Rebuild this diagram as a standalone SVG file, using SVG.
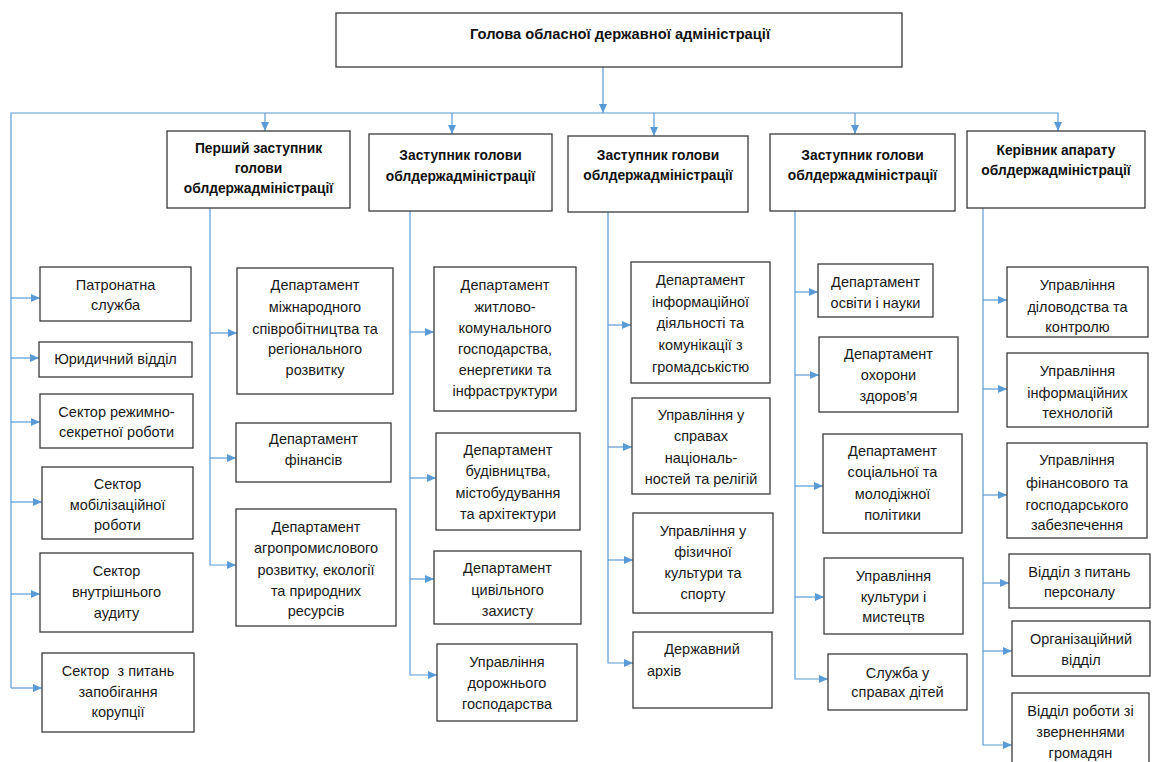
<svg xmlns="http://www.w3.org/2000/svg" width="1152" height="762" viewBox="0 0 1152 762">
<style>
.b{fill:#fff;stroke:#3a3a3a;stroke-width:1.3}
.t{font-family:"Liberation Sans",Arial,sans-serif;font-size:14.5px;fill:#1a1a1a;text-anchor:middle}
.h{font-family:"Liberation Sans",Arial,sans-serif;font-size:13.8px;font-weight:bold;fill:#111;text-anchor:middle}
.ht{font-family:"Liberation Sans",Arial,sans-serif;font-size:14.7px;font-weight:bold;fill:#111;text-anchor:middle}
.c{fill:none;stroke:#5b9bd5;stroke-width:1.2}
</style>
<defs>
<marker id="ar" markerUnits="userSpaceOnUse" markerWidth="9" markerHeight="8" refX="9" refY="4" orient="auto">
<path d="M0,0 L9,4 L0,8 z" fill="#5b9bd5"/>
</marker>
</defs>
<rect width="1152" height="762" fill="#fff"/>
<g id="connectors">
<path class="c" d="M603,67 V113" marker-end="url(#ar)"/>
<path class="c" d="M11,688 V113 H1058 V131" marker-end="url(#ar)"/>
<path class="c" d="M265,113 V131" marker-end="url(#ar)"/>
<path class="c" d="M452,113 V134" marker-end="url(#ar)"/>
<path class="c" d="M654,113 V136" marker-end="url(#ar)"/>
<path class="c" d="M855,113 V134" marker-end="url(#ar)"/>
<path class="c" d="M11,298 H40" marker-end="url(#ar)"/>
<path class="c" d="M11,358 H39" marker-end="url(#ar)"/>
<path class="c" d="M11,422 H40" marker-end="url(#ar)"/>
<path class="c" d="M11,502 H42" marker-end="url(#ar)"/>
<path class="c" d="M11,594 H40" marker-end="url(#ar)"/>
<path class="c" d="M11,688 H42" marker-end="url(#ar)"/>
<path class="c" d="M210,208 V565 H236" marker-end="url(#ar)"/>
<path class="c" d="M210,333 H237" marker-end="url(#ar)"/>
<path class="c" d="M210,458 H236" marker-end="url(#ar)"/>
<path class="c" d="M410,211 V675 H437" marker-end="url(#ar)"/>
<path class="c" d="M410,332 H434" marker-end="url(#ar)"/>
<path class="c" d="M410,478 H436" marker-end="url(#ar)"/>
<path class="c" d="M410,579 H434" marker-end="url(#ar)"/>
<path class="c" d="M608,212 V663 H633" marker-end="url(#ar)"/>
<path class="c" d="M608,325 H631" marker-end="url(#ar)"/>
<path class="c" d="M608,447 H632" marker-end="url(#ar)"/>
<path class="c" d="M608,560 H633" marker-end="url(#ar)"/>
<path class="c" d="M795,211 V679 H828" marker-end="url(#ar)"/>
<path class="c" d="M795,292 H818" marker-end="url(#ar)"/>
<path class="c" d="M795,375 H819" marker-end="url(#ar)"/>
<path class="c" d="M795,486 H823" marker-end="url(#ar)"/>
<path class="c" d="M795,597 H824" marker-end="url(#ar)"/>
<path class="c" d="M983,208 V745 H1012" marker-end="url(#ar)"/>
<path class="c" d="M983,300 H1007" marker-end="url(#ar)"/>
<path class="c" d="M983,389 H1007" marker-end="url(#ar)"/>
<path class="c" d="M983,495 H1007" marker-end="url(#ar)"/>
<path class="c" d="M983,583 H1009" marker-end="url(#ar)"/>
<path class="c" d="M983,651 H1012" marker-end="url(#ar)"/>
</g>
<g id="head"><rect class="b" x="336" y="13" width="566" height="54"/><text class="ht" x="620" y="39">Голова обласної державної адміністрації</text></g>
<g id="dep1"><rect class="b" x="167" y="131" width="183" height="77"/><text class="h" x="258.5" y="153">Перший заступник</text><text class="h" x="258.5" y="173">голови</text><text class="h" x="258.5" y="193">облдержадміністрації</text></g>
<g id="dep2"><rect class="b" x="369" y="134" width="183" height="77"/><text class="h" x="460.5" y="160">Заступник голови</text><text class="h" x="460.5" y="181">облдержадміністрації</text></g>
<g id="dep3"><rect class="b" x="568" y="136" width="180" height="76"/><text class="h" x="658" y="160">Заступник голови</text><text class="h" x="658" y="180">облдержадміністрації</text></g>
<g id="dep4"><rect class="b" x="770" y="134" width="185" height="77"/><text class="h" x="862.5" y="160">Заступник голови</text><text class="h" x="862.5" y="180">облдержадміністрації</text></g>
<g id="dep5"><rect class="b" x="967" y="131" width="178" height="77"/><text class="h" x="1056" y="155">Керівник апарату</text><text class="h" x="1056" y="175">облдержадміністрації</text></g>

<g id="n1"><rect class="b" x="40" y="267" width="151" height="54"/><text class="t" x="115.5" y="290">Патронатна</text><text class="t" x="115.5" y="310">служба</text></g>
<g id="n2"><rect class="b" x="39" y="342" width="153" height="35"/><text class="t" x="115.5" y="364">Юридичний відділ</text></g>
<g id="n3"><rect class="b" x="40" y="394" width="153" height="54"/><text class="t" x="116.5" y="417">Сектор режимно-</text><text class="t" x="116.5" y="437">секретної роботи</text></g>
<g id="n4"><rect class="b" x="42" y="467" width="151" height="72"/><text class="t" x="117.5" y="489">Сектор</text><text class="t" x="117.5" y="510">мобілізаційної</text><text class="t" x="117.5" y="530">роботи</text></g>
<g id="n5"><rect class="b" x="40" y="553" width="153" height="79"/><text class="t" x="116.5" y="576">Сектор</text><text class="t" x="116.5" y="597">внутрішнього</text><text class="t" x="116.5" y="618">аудиту</text></g>
<g id="n6"><rect class="b" x="42" y="653" width="152" height="79"/><text class="t" x="118" y="676">Сектор&#160; з питань</text><text class="t" x="118" y="697">запобігання</text><text class="t" x="118" y="717">корупції</text></g>

<g id="n7"><rect class="b" x="237" y="268" width="156" height="126"/><text class="t" x="315" y="290">Департамент</text><text class="t" x="315" y="312">міжнародного</text><text class="t" x="315" y="334">співробітництва та</text><text class="t" x="315" y="354">регіонального</text><text class="t" x="315" y="375">розвитку</text></g>
<g id="n8"><rect class="b" x="236" y="423" width="155" height="59"/><text class="t" x="313.5" y="444">Департамент</text><text class="t" x="313.5" y="465">фінансів</text></g>
<g id="n9"><rect class="b" x="236" y="509" width="160" height="117"/><text class="t" x="316" y="532">Департамент</text><text class="t" x="316" y="553">агропромислового</text><text class="t" x="316" y="575">розвитку, екології</text><text class="t" x="316" y="596">та природних</text><text class="t" x="316" y="616">ресурсів</text></g>

<g id="n10"><rect class="b" x="434" y="267" width="142" height="144"/><text class="t" x="505" y="290">Департамент</text><text class="t" x="505" y="312">житлово-</text><text class="t" x="505" y="333">комунального</text><text class="t" x="505" y="354">господарства,</text><text class="t" x="505" y="375">енергетики та</text><text class="t" x="505" y="396">інфраструктури</text></g>
<g id="n11"><rect class="b" x="436" y="433" width="144" height="97"/><text class="t" x="508" y="455">Департамент</text><text class="t" x="508" y="476">будівництва,</text><text class="t" x="508" y="498">містобудування</text><text class="t" x="508" y="519">та архітектури</text></g>
<g id="n12"><rect class="b" x="434" y="551" width="147" height="73"/><text class="t" x="507.5" y="573">Департамент</text><text class="t" x="507.5" y="595">цивільного</text><text class="t" x="507.5" y="616">захисту</text></g>
<g id="n13"><rect class="b" x="437" y="644" width="140" height="77"/><text class="t" x="507" y="667">Управління</text><text class="t" x="507" y="688">дорожнього</text><text class="t" x="507" y="709">господарства</text></g>

<g id="n14"><rect class="b" x="631" y="262" width="139" height="121"/><text class="t" x="700.5" y="285">Департамент</text><text class="t" x="700.5" y="307">інформаційної</text><text class="t" x="700.5" y="328">діяльності та</text><text class="t" x="700.5" y="350">комунікації з</text><text class="t" x="700.5" y="372">громадськістю</text></g>
<g id="n15"><rect class="b" x="632" y="398" width="138" height="96"/><text class="t" x="701" y="420">Управління у</text><text class="t" x="701" y="441">справах</text><text class="t" x="701" y="463">національ-</text><text class="t" x="701" y="484">ностей та релігій</text></g>
<g id="n16"><rect class="b" x="633" y="513" width="140" height="100"/><text class="t" x="703" y="536">Управління у</text><text class="t" x="703" y="557">фізичної</text><text class="t" x="703" y="578">культури та</text><text class="t" x="703" y="599">спорту</text></g>
<g id="n17"><rect class="b" x="633" y="632" width="139" height="76"/><text class="t" x="702" y="654">Державний</text><text class="t" x="647" y="676" style="text-anchor:start">архів</text></g>

<g id="n18"><rect class="b" x="818" y="264" width="115" height="53"/><text class="t" x="875.5" y="287">Департамент</text><text class="t" x="875.5" y="308">освіти і науки</text></g>
<g id="n19"><rect class="b" x="819" y="337" width="139" height="75"/><text class="t" x="888.5" y="359">Департамент</text><text class="t" x="888.5" y="380">охорони</text><text class="t" x="888.5" y="401">здоров’я</text></g>
<g id="n20"><rect class="b" x="823" y="434" width="139" height="99"/><text class="t" x="892.5" y="456">Департамент</text><text class="t" x="892.5" y="477">соціальної та</text><text class="t" x="892.5" y="499">молодіжної</text><text class="t" x="892.5" y="520">політики</text></g>
<g id="n21"><rect class="b" x="824" y="558" width="139" height="76"/><text class="t" x="893.5" y="581">Управління</text><text class="t" x="893.5" y="602">культури і</text><text class="t" x="893.5" y="622">мистецтв</text></g>
<g id="n22"><rect class="b" x="828" y="654" width="139" height="56"/><text class="t" x="897.5" y="678">Служба у</text><text class="t" x="897.5" y="697">справах дітей</text></g>

<g id="n23"><rect class="b" x="1007" y="267" width="141" height="70"/><text class="t" x="1077.5" y="290">Управління</text><text class="t" x="1077.5" y="312">діловодства та</text><text class="t" x="1077.5" y="332">контролю</text></g>
<g id="n24"><rect class="b" x="1007" y="353" width="141" height="74"/><text class="t" x="1077.5" y="376">Управління</text><text class="t" x="1077.5" y="398">інформаційних</text><text class="t" x="1077.5" y="418">технологій</text></g>
<g id="n25"><rect class="b" x="1007" y="443" width="140" height="95"/><text class="t" x="1077" y="465">Управління</text><text class="t" x="1077" y="488">фінансового та</text><text class="t" x="1077" y="510">господарського</text><text class="t" x="1077" y="530">забезпечення</text></g>
<g id="n26"><rect class="b" x="1009" y="554" width="141" height="54"/><text class="t" x="1079.5" y="577">Відділ з питань</text><text class="t" x="1079.5" y="597">персоналу</text></g>
<g id="n27"><rect class="b" x="1012" y="621" width="138" height="55"/><text class="t" x="1081" y="644">Організаційний</text><text class="t" x="1081" y="665">відділ</text></g>
<g id="n28"><rect class="b" x="1012" y="693" width="137" height="80"/><text class="t" x="1080.5" y="716">Відділ роботи зі</text><text class="t" x="1080.5" y="737">зверненнями</text><text class="t" x="1080.5" y="758">громадян</text></g>
</svg>
